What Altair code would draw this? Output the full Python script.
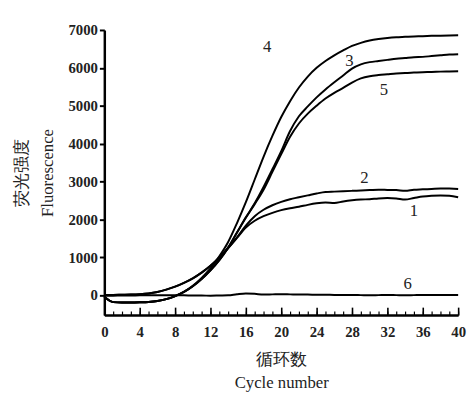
import altair as alt
import pandas as pd

cycles = list(range(0, 41))

curve1 = [0, 0, 5, 10, 20, 40, 80, 140, 220, 320, 440, 590, 770, 990, 1240, 1510, 1780,
          1960, 2080, 2170, 2240, 2290, 2330, 2380, 2420, 2440, 2430, 2470, 2500, 2520, 2530,
          2550, 2560, 2550, 2520, 2560, 2600, 2620, 2630, 2620, 2580]
curve2 = [0, 0, 5, 10, 20, 40, 80, 140, 220, 320, 440, 590, 770, 990, 1240, 1520, 1830,
          2080, 2250, 2370, 2460, 2530, 2580, 2630, 2680, 2720, 2730, 2740, 2750, 2760, 2770,
          2780, 2775, 2770, 2750, 2780, 2790, 2800, 2810, 2810, 2800]
curve3 = [-50, -190, -200, -200, -195, -185, -160, -110, -30, 80, 230, 420, 650, 920, 1250,
          1650, 2050, 2420, 2850, 3320, 3800, 4330, 4720, 4980, 5220, 5430, 5620, 5800, 5980,
          6090, 6150, 6180, 6210, 6240, 6260, 6280, 6290, 6310, 6330, 6350, 6360]
curve4 = [-50, -190, -200, -200, -195, -185, -160, -110, -30, 80, 240, 450, 700, 1020, 1400,
          1900, 2450, 3050, 3650, 4200, 4700, 5120, 5480, 5770, 6000, 6180, 6330, 6460, 6580,
          6660, 6720, 6760, 6790, 6810, 6820, 6830, 6835, 6845, 6850, 6855, 6860]
curve5 = [-50, -190, -200, -200, -195, -185, -160, -110, -30, 80, 230, 420, 650, 920, 1250,
          1650, 2040, 2400, 2780, 3250, 3720, 4180, 4530, 4790, 5000, 5190, 5340, 5470, 5610,
          5720, 5780, 5810, 5830, 5850, 5865, 5875, 5885, 5890, 5900, 5905, 5910]
curve6 = [-20, -20, -15, -15, -10, -10, -10, -10, -10, -10, -15, -15, -20, -15, -10,
          20, 40, 30, 10, 15, 20, 15, 10, 10, 5, 5, 0, 0, 0, -5, -10,
          -5, 0, -5, -10, -5, 0, 0, 0, 0, 0]

series = {"1": curve1, "2": curve2, "3": curve3, "4": curve4, "5": curve5, "6": curve6}

label_names = ["4", "3", "5", "2", "1", "6"]
label_x = [18.4, 27.7, 31.6, 29.4, 35.0, 34.3]
label_y = [6560, 6190, 5420, 3100, 2220, 300]

y_ticks = [0, 1000, 2000, 3000, 4000, 5000, 6000, 7000]
x_major = list(range(0, 41, 4))
x_minor = list(range(0, 41, 1))

rows = []
for name, vals in series.items():
    for c, v in zip(cycles, vals):
        rows.append({"curve": name, "cycle": c, "value": v})
df = pd.DataFrame(rows)

xs = alt.Scale(domain=[0, 40], nice=False, zero=False)
ys = alt.Scale(domain=[-530, 7000], nice=False, zero=False)

SERIF = "Liberation Serif"

y_enc = alt.Y("value:Q", scale=ys, axis=alt.Axis(
    values=y_ticks, format="d", tickSize=5, tickWidth=2, labelPadding=2,
    title=["荧光强度", "Fluorescence"], titlePadding=12, titleLineHeight=26))

lines = alt.Chart(df).mark_line(color="black", strokeWidth=2, interpolate="monotone").encode(
    x=alt.X("cycle:Q", scale=xs, axis=alt.Axis(
        orient="bottom", values=x_major, format="d", tickSize=0, labelPadding=10,
        labelFlush=False, title=["循环数", "Cycle number"], titlePadding=12,
        titleLineHeight=24)),
    y=y_enc,
    detail="curve:N",
)

major_df = pd.DataFrame({"x": x_major, "v": [0] * len(x_major)})
minor_df = pd.DataFrame({"x": x_minor, "v": [0] * len(x_minor)})

major_axis = alt.Chart(major_df).mark_point(opacity=0).encode(
    x=alt.X("x:Q", scale=xs, axis=alt.Axis(
        orient="bottom", values=x_major, offset=-8, tickSize=8, tickWidth=1.6,
        tickColor="black", domain=False, labels=False, title=None)),
    y=alt.Y("v:Q", scale=ys, axis=None))
minor_axis = alt.Chart(minor_df).mark_point(opacity=0).encode(
    x=alt.X("x:Q", scale=xs, axis=alt.Axis(
        orient="bottom", values=x_minor, offset=-4, tickSize=4, tickWidth=1.2,
        tickColor="black", domain=False, labels=False, title=None)),
    y=alt.Y("v:Q", scale=ys, axis=None))

lab_df = pd.DataFrame({"name": label_names, "x": label_x, "y": label_y})
labels = alt.Chart(lab_df).mark_text(font=SERIF, fontSize=17, color="#222").encode(
    x=alt.X("x:Q", scale=xs, axis=None), y=alt.Y("y:Q", scale=ys, axis=None), text="name:N")

chart = alt.layer(lines, major_axis, minor_axis, labels).resolve_axis(
    x="independent", y="independent"
).properties(
    width=360, height=290,
    autosize=alt.AutoSizeParams(type="none"),
    padding={"left": 98, "top": 19, "right": 9, "bottom": 77},
    background="white",
).configure_view(stroke=None).configure_axis(
    labelFont=SERIF, labelFontSize=15, labelFontWeight="bold", labelColor="#222",
    titleFont=SERIF, titleFontSize=17, titleFontWeight="normal", titleColor="#222",
    domainColor="black", domainWidth=2.5, tickColor="black", grid=False,
)

chart.save("out.html", embed_options={"renderer": "svg", "actions": False})
